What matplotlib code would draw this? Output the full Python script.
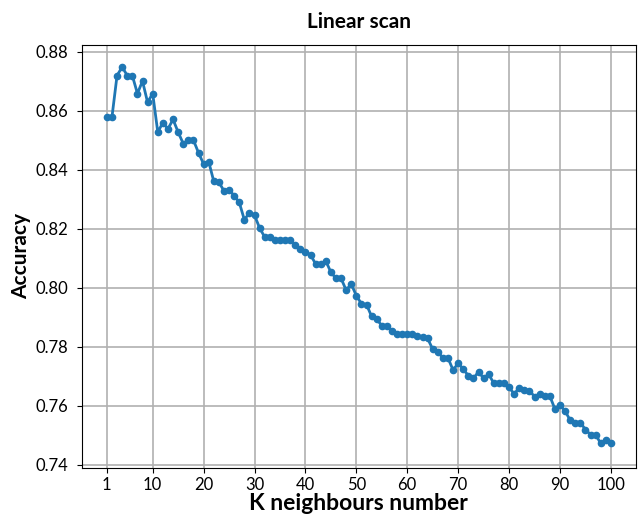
import matplotlib
matplotlib.use("Agg")
import matplotlib.pyplot as plt

# k-NN accuracy for each neighbour count on the linear scan
k_values = list(range(1, 101))
accuracy = [
    0.8579, 0.8579, 0.8720, 0.8749, 0.8720, 0.8720, 0.8659, 0.8701, 0.8629, 0.8659,
    0.8528, 0.8560, 0.8539, 0.8571, 0.8528, 0.8489, 0.8501, 0.8501, 0.8458, 0.8420,
    0.8428, 0.8361, 0.8358, 0.8329, 0.8333, 0.8312, 0.8290, 0.8231, 0.8254, 0.8246,
    0.8203, 0.8172, 0.8172, 0.8162, 0.8162, 0.8162, 0.8162, 0.8144, 0.8131, 0.8121,
    0.8112, 0.8081, 0.8081, 0.8091, 0.8053, 0.8032, 0.8032, 0.7992, 0.8013, 0.7973,
    0.7946, 0.7943, 0.7903, 0.7893, 0.7872, 0.7872, 0.7853, 0.7842, 0.7843, 0.7843,
    0.7843, 0.7837, 0.7834, 0.7828, 0.7792, 0.7783, 0.7762, 0.7762, 0.7721, 0.7744,
    0.7724, 0.7702, 0.7693, 0.7715, 0.7693, 0.7707, 0.7676, 0.7676, 0.7676, 0.7662,
    0.7640, 0.7661, 0.7653, 0.7651, 0.7631, 0.7640, 0.7633, 0.7633, 0.7589, 0.7602,
    0.7582, 0.7551, 0.7540, 0.7543, 0.7519, 0.7502, 0.7502, 0.7472, 0.7483, 0.7472,
]
x_ticks = [1, 10, 20, 30, 40, 50, 60, 70, 80, 90, 100]

plt.rcParams["font.family"] = ["Lato", "DejaVu Sans"]

fig = plt.figure(figsize=(6.38, 5.19), dpi=100)
ax = fig.add_axes([0.128, 0.099, 0.869, 0.814])

ax.plot(k_values, accuracy, marker="o", markersize=4.5, linewidth=2, color="#1f77b4")
ax.set_xticks(x_ticks)
ax.set_ylim(0.739, 0.8823)
ax.grid(True, color="#b0b0b0", linewidth=1.2)
ax.tick_params(labelsize=12)
ax.tick_params(axis="y", pad=6)
ax.tick_params(axis="x", pad=3)

ax.set_title("Linear scan", fontsize=15, fontweight="bold", pad=12)
ax.set_xlabel("K neighbours number", fontsize=16.5, fontweight="bold", labelpad=0)
ax.set_ylabel("Accuracy", fontsize=15, fontweight="bold", labelpad=3)

fig.savefig("out.png", dpi=100)
